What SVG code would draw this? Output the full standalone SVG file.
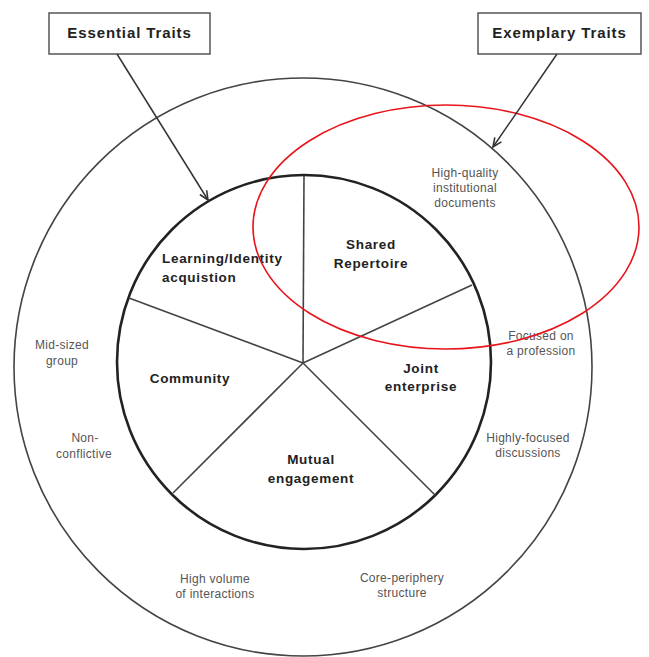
<svg xmlns="http://www.w3.org/2000/svg" width="649" height="657" viewBox="0 0 649 657">
<style>
.box{fill:#fff;stroke:#555;stroke-width:1.5}
.title{font-family:"Liberation Sans",Arial,sans-serif;font-weight:bold;font-size:15px;letter-spacing:0.9px;fill:#222}
.seg{font-family:"Liberation Sans",Arial,sans-serif;font-weight:bold;font-size:13.5px;letter-spacing:0.7px;fill:#222}
.trait{font-family:"Liberation Sans",Arial,sans-serif;font-size:12px;letter-spacing:0.3px;fill:#555}
.spoke{stroke:#444;stroke-width:1.6;fill:none}
.conn{stroke:#333;stroke-width:1.5;fill:none}
</style>
<defs>
<marker id="arr" markerWidth="12" markerHeight="12" refX="10" refY="5" orient="auto" markerUnits="userSpaceOnUse">
<path d="M1,1 L10,5 L1,9" fill="none" stroke="#333" stroke-width="1.6"/>
</marker>
</defs>
<rect width="649" height="657" fill="#fff"/>
<g id="outer-ring">
<circle cx="303" cy="367" r="289" fill="none" stroke="#444" stroke-width="1.6"/>
</g>
<g id="inner-circle">
<circle cx="304" cy="362" r="187" fill="none" stroke="#222" stroke-width="2.6"/>
<line class="spoke" x1="303" y1="363" x2="304" y2="176"/>
<line class="spoke" x1="303" y1="363" x2="472" y2="285"/>
<line class="spoke" x1="303" y1="363" x2="435" y2="495"/>
<line class="spoke" x1="303" y1="363" x2="173" y2="493"/>
<line class="spoke" x1="303" y1="363" x2="129" y2="298"/>
</g>
<g id="essential-traits">
<rect class="box" x="49" y="13" width="161" height="41"/>
<text class="title" x="129.5" y="38" text-anchor="middle">Essential Traits</text>
</g>
<g id="exemplary-traits">
<rect class="box" x="478" y="13" width="163" height="41"/>
<text class="title" x="559.5" y="38" text-anchor="middle">Exemplary Traits</text>
</g>
<g id="learning">
<text class="seg" x="162" y="263">Learning/Identity</text>
<text class="seg" x="162" y="282">acquistion</text>
</g>
<g id="shared-repertoire">
<text class="seg" x="371" y="249" text-anchor="middle">Shared</text>
<text class="seg" x="371" y="268" text-anchor="middle">Repertoire</text>
</g>
<g id="community">
<text class="seg" x="190" y="383" text-anchor="middle">Community</text>
</g>
<g id="joint-enterprise">
<text class="seg" x="421" y="373" text-anchor="middle">Joint</text>
<text class="seg" x="421" y="391" text-anchor="middle">enterprise</text>
</g>
<g id="mutual-engagement">
<text class="seg" x="311" y="464" text-anchor="middle">Mutual</text>
<text class="seg" x="311" y="483" text-anchor="middle">engagement</text>
</g>
<g id="high-quality">
<text class="trait" x="465" y="177" text-anchor="middle">High-quality</text>
<text class="trait" x="465" y="192" text-anchor="middle">institutional</text>
<text class="trait" x="465" y="207" text-anchor="middle">documents</text>
</g>
<g id="focused-profession">
<text class="trait" x="541" y="340" text-anchor="middle">Focused on</text>
<text class="trait" x="541" y="355" text-anchor="middle">a profession</text>
</g>
<g id="highly-focused">
<text class="trait" x="528" y="442" text-anchor="middle">Highly-focused</text>
<text class="trait" x="528" y="457" text-anchor="middle">discussions</text>
</g>
<g id="core-periphery">
<text class="trait" x="402" y="582" text-anchor="middle">Core-periphery</text>
<text class="trait" x="402" y="597" text-anchor="middle">structure</text>
</g>
<g id="high-volume">
<text class="trait" x="215" y="583" text-anchor="middle">High volume</text>
<text class="trait" x="215" y="598" text-anchor="middle">of interactions</text>
</g>
<g id="mid-sized">
<text class="trait" x="62" y="349" text-anchor="middle">Mid-sized</text>
<text class="trait" x="62" y="365" text-anchor="middle">group</text>
</g>
<g id="non-conflictive">
<text class="trait" x="85" y="442" text-anchor="middle">Non-</text>
<text class="trait" x="84" y="458" text-anchor="middle">conflictive</text>
</g>
<g id="highlight">
<ellipse cx="446" cy="227" rx="193" ry="122" fill="none" stroke="#e8141b" stroke-width="1.6"/>
</g>
<g id="connectors">
<line class="conn" x1="117" y1="54" x2="208" y2="200" marker-end="url(#arr)"/>
<line class="conn" x1="557" y1="54" x2="493" y2="147" marker-end="url(#arr)"/>
</g>
</svg>
